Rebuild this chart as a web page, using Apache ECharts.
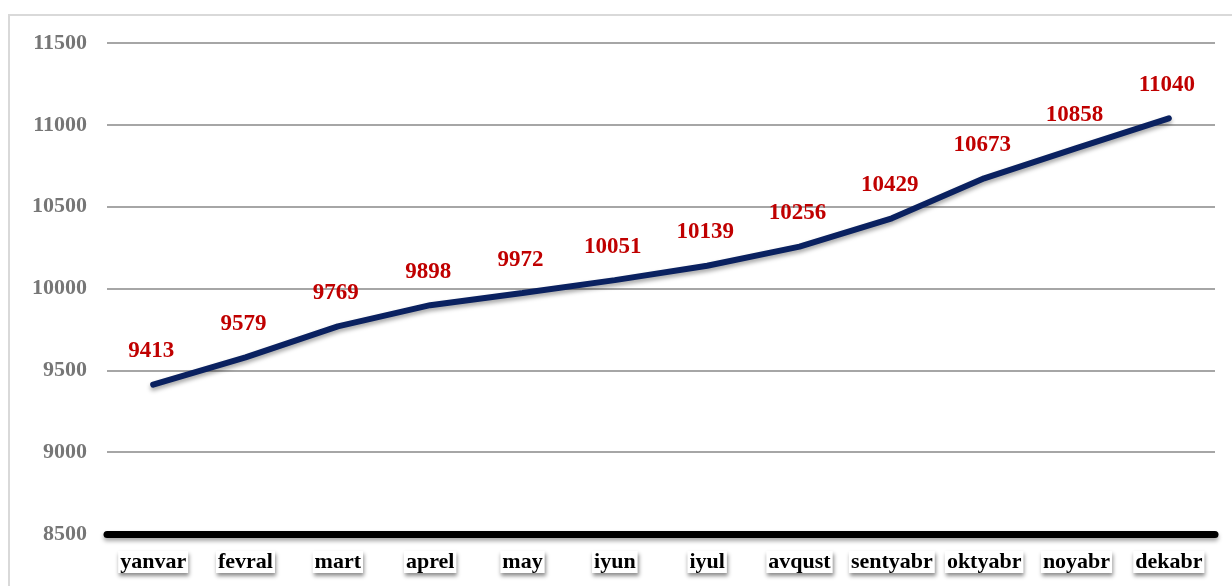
<!DOCTYPE html>
<html>
<head>
<meta charset="utf-8">
<script src="https://cdn.jsdelivr.net/npm/echarts@6/dist/echarts.min.js"></script>
<style>
  html, body { margin: 0; padding: 0; background: #fff; }
  #frame { position: absolute; left: 8px; top: 14px; width: 1240px; height: 600px; border: 2px solid #d9d9d9; box-sizing: border-box; }
  #chart { position: absolute; left: 0; top: 0; width: 1232px; height: 586px; }
</style>
</head>
<body>
<div id="frame"></div>
<div id="chart"></div>
<script>
const months = ['yanvar', 'fevral', 'mart', 'aprel', 'may', 'iyun', 'iyul', 'avqust', 'sentyabr', 'oktyabr', 'noyabr', 'dekabr'];
const values = [9413, 9579, 9769, 9898, 9972, 10051, 10139, 10256, 10429, 10673, 10858, 11040];
const yTicks = { min: 8500, max: 11500, step: 500 };

const chart = echarts.init(document.getElementById('chart'));
const serif = '"Liberation Serif", "Times New Roman", serif';

chart.setOption({
  animation: false,
  grid: { left: 107, right: 17, top: 43, bottom: 52 },
  xAxis: {
    type: 'category',
    data: months,
    boundaryGap: true,
    axisLine: {
      show: true,
      lineStyle: { color: '#000', width: 7, shadowColor: 'rgba(0,0,0,0.35)', shadowBlur: 4, shadowOffsetY: 3 }
    },
    axisTick: { show: false },
    axisLabel: {
      interval: 0,
      hideOverlap: false,
      margin: 17,
      fontFamily: serif,
      fontWeight: 'bold',
      fontSize: 22,
      color: '#000',
      backgroundColor: '#fff',
      padding: [0, 2, 0, 2],
      shadowColor: 'rgba(0,0,0,0.45)',
      shadowBlur: 4,
      shadowOffsetX: 1,
      shadowOffsetY: 3
    }
  },
  yAxis: {
    type: 'value',
    min: yTicks.min,
    max: yTicks.max,
    interval: yTicks.step,
    axisLine: { show: false },
    axisTick: { show: false },
    axisLabel: {
      margin: 20,
      fontFamily: serif,
      fontWeight: 'bold',
      fontSize: 22,
      color: '#767676',
      formatter: v => String(v)
    },
    splitLine: { lineStyle: { color: '#a6a6a6', width: 2 } }
  },
  series: [{
    type: 'line',
    data: values,
    symbol: 'circle',
    symbolSize: 2,
    showSymbol: true,
    itemStyle: { color: 'rgba(0,0,0,0)', borderWidth: 0 },
    z: 5,
    lineStyle: {
      color: '#0a2160',
      width: 6,
      cap: 'round',
      shadowColor: 'rgba(0,0,0,0.35)',
      shadowBlur: 4,
      shadowOffsetY: 3
    },
    label: {
      show: true,
      position: 'top',
      distance: 21,
      offset: [-2, 0],
      fontFamily: serif,
      fontWeight: 'bold',
      fontSize: 23,
      color: '#c00000'
    }
  }]
});
</script>
</body>
</html>
